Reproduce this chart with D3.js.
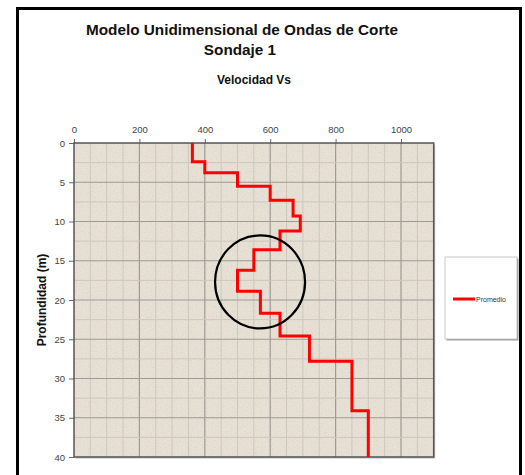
<!DOCTYPE html>
<html><head><meta charset="utf-8">
<script src="https://cdn.jsdelivr.net/npm/d3@7"></script>
<style>body{margin:0;background:#fff}svg{display:block}text{font-family:"Liberation Sans",Arial,sans-serif}</style>
</head><body><div id="chart"></div>
<script>
// Data: layer top depths (m) and shear-wave velocity Vs (m/s)
const layerTops = [0, 2.4, 3.8, 5.5, 7.3, 9.3, 11.2, 13.6, 16.2, 18.9, 21.7, 24.6, 27.8, 34.1];
const velocities = [362, 400, 500, 600, 670, 692, 630, 550, 500, 570, 630, 720, 850, 900];
const maxDepth = 40;
const xTicks = [0, 200, 400, 600, 800, 1000];
const yTicks = [0, 5, 10, 15, 20, 25, 30, 35, 40];
const seriesName = "Promedio";
const titleLines = ["Modelo Unidimensional de Ondas de Corte", "Sondaje 1"];
const subTitle = "Velocidad Vs";
const yTitle = "Profundidad (m)";
const highlight = {v: 569, d: 17.7};

const W = 525, H = 475;
const svg = d3.select("#chart").append("svg").attr("width", W).attr("height", H);
const L = 74, R = 433.7, T = 143, B = 457;
const x = d3.scaleLinear().domain([0, 1100]).range([L, R]);
const y = d3.scaleLinear().domain([0, maxDepth]).range([T, B]);

// outer frame
svg.append("rect").attr("x", 17.5).attr("y", 8.5).attr("width", 503).attr("height", 490)
  .attr("fill", "#fff").attr("stroke", "#000").attr("stroke-width", 3);

// titles
svg.append("text").attr("x", 242).attr("y", 35).attr("text-anchor", "middle")
  .attr("font-size", 15.3).attr("font-weight", "bold").attr("fill", "#111").text(titleLines[0]);
svg.append("text").attr("x", 240).attr("y", 55).attr("text-anchor", "middle")
  .attr("font-size", 15.3).attr("font-weight", "bold").attr("fill", "#111").text(titleLines[1]);
svg.append("text").attr("x", 254).attr("y", 84).attr("text-anchor", "middle")
  .attr("font-size", 12).attr("font-weight", "bold").attr("fill", "#111").text(subTitle);

// plot background with subtle texture
const defs = svg.append("defs");
const f = defs.append("filter").attr("id", "tex").attr("x", 0).attr("y", 0).attr("width", 1).attr("height", 1);
f.append("feTurbulence").attr("type", "fractalNoise").attr("baseFrequency", 0.8).attr("numOctaves", 2).attr("seed", 3).attr("result", "n");
f.append("feColorMatrix").attr("in", "n").attr("type", "matrix")
  .attr("values", "0 0 0 0 0.6  0 0 0 0 0.55  0 0 0 0 0.5  0 0 0 -1.2 0.6").attr("result", "c");
f.append("feComposite").attr("in", "c").attr("in2", "SourceGraphic").attr("operator", "atop");
// shadow
svg.append("rect").attr("x", L + 1.5).attr("y", T + 1.5).attr("width", R - L).attr("height", B - T).attr("fill", "#bdbdbd");
svg.append("rect").attr("x", L).attr("y", T).attr("width", R - L).attr("height", B - T)
  .attr("fill", "#e7e0d4").attr("filter", "url(#tex)");

// grid
const g = svg.append("g");
g.selectAll("line.vm").data(d3.range(50, 1100, 50)).join("line")
  .attr("x1", d => x(d)).attr("x2", d => x(d)).attr("y1", T).attr("y2", B)
  .attr("stroke", d => d % 200 === 0 ? "#9e9a95" : "#cdc7be").attr("stroke-width", d => d % 200 === 0 ? 1.2 : 1);
g.selectAll("line.hm").data(d3.range(2.5, maxDepth, 2.5)).join("line")
  .attr("y1", d => y(d)).attr("y2", d => y(d)).attr("x1", L).attr("x2", R)
  .attr("stroke", d => d % 5 === 0 ? "#9e9a95" : "#cdc7be").attr("stroke-width", d => d % 5 === 0 ? 1.2 : 1);

// axes
const ax = svg.append("g").attr("transform", `translate(0,${T})`)
  .call(d3.axisTop(x).tickValues(xTicks).tickFormat(d3.format("d")).tickSize(4).tickPadding(6));
const ay = svg.append("g").attr("transform", `translate(${L},0)`)
  .call(d3.axisLeft(y).tickValues(yTicks).tickFormat(d3.format("d")).tickSize(5).tickPadding(4));
[ax, ay].forEach(a => {
  a.select(".domain").remove();
  a.selectAll("line").attr("stroke", "#666");
  a.selectAll("text").attr("font-size", 9.5).attr("fill", "#444")
    .attr("font-family", "'Liberation Sans',Arial,sans-serif");
});
// plot border
svg.append("rect").attr("x", L).attr("y", T).attr("width", R - L).attr("height", B - T)
  .attr("fill", "none").attr("stroke", "#555").attr("stroke-width", 1.5);

// y title
svg.append("text").attr("transform", `translate(46,${(T + B) / 2}) rotate(-90)`)
  .attr("text-anchor", "middle").attr("font-size", 12).attr("font-weight", "bold").attr("fill", "#111").text(yTitle);

// step profile
const pts = [];
velocities.forEach((v, i) => {
  const top = layerTops[i];
  const bot = i + 1 < layerTops.length ? layerTops[i + 1] : maxDepth;
  pts.push([v, top], [v, bot]);
});
const line = d3.line().x(d => x(d[0])).y(d => y(d[1]));
svg.append("path").datum(pts).attr("d", line).attr("fill", "none")
  .attr("stroke", "#ff0000").attr("stroke-width", 3).attr("stroke-linejoin", "miter");

// highlight circle
svg.append("ellipse").attr("cx", x(highlight.v)).attr("cy", y(highlight.d)).attr("rx", 45).attr("ry", 46.5)
  .attr("fill", "none").attr("stroke", "#000").attr("stroke-width", 2.2);

// legend
svg.append("rect").attr("x", 446.5).attr("y", 258.5).attr("width", 72).attr("height", 82).attr("fill", "#999");
svg.append("rect").attr("x", 445).attr("y", 257).attr("width", 72).attr("height", 82)
  .attr("fill", "#fff").attr("stroke", "#bbb").attr("stroke-width", 0.8);
svg.append("line").attr("x1", 453).attr("x2", 475).attr("y1", 299).attr("y2", 299)
  .attr("stroke", "#ff0000").attr("stroke-width", 3);
svg.append("text").attr("x", 476).attr("y", 301.5).attr("font-size", 7).attr("fill", "#333").text(seriesName);
</script></body></html>
